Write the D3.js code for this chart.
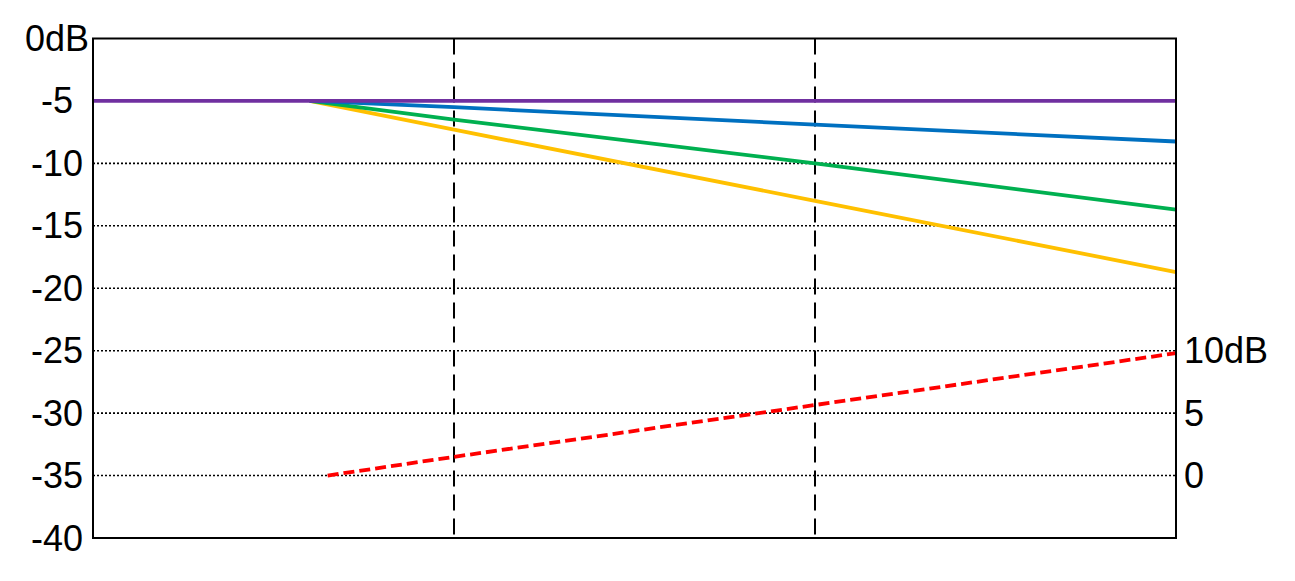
<!DOCTYPE html>
<html><head><meta charset="utf-8">
<script src="https://cdn.jsdelivr.net/npm/d3@7"></script>
<style>body{margin:0;background:#fff}text{font-family:"Liberation Sans",Arial,sans-serif}</style>
</head><body>
<svg id="c" width="1295" height="581"></svg>
<script>
// Data
const leftTicks = [0, -5, -10, -15, -20, -25, -30, -35, -40];
const leftTickLabels = ["0dB", "-5", "-10", "-15", "-20", "-25", "-30", "-35", "-40"];
const gridTicks = [-10, -15, -20, -25, -30, -35];
const rightTicks = [10, 5, 0];
const rightTickLabels = ["10dB", "5", "0"];
const dividers = [1, 2];
const xPos = [0.6, 1, 2, 3];
const purple = [[0, -5], [3, -5]];
const blue = [-5, -5.5, -6.9, -8.25];
const green = [-5, -6.5, -10, -13.7];
const yellow = [-5, -7.3, -13, -18.7];
const redX = [0.65, 1, 2, 3];
const red = [0, 1.5, 5.65, 9.8];

const svg = d3.select("#c");
const L = 93, R = 1176, T = 38.5, B = 538;
const x = d3.scaleLinear().domain([0, 3]).range([L, R]);
const y = d3.scaleLinear().domain([-40, 0]).range([B, T]);
const yR = d3.scaleLinear().domain([-5, 35]).range([B, T]);

// grid
svg.append("g").selectAll("line").data(gridTicks).join("line")
  .attr("x1", L).attr("x2", R).attr("y1", d => y(d)).attr("y2", d => y(d))
  .attr("stroke", "#000").attr("stroke-width", 1.6).attr("stroke-dasharray", "2,2");

// vertical dashed dividers
svg.append("g").selectAll("line").data(dividers).join("line")
  .attr("x1", d => x(d)).attr("x2", d => x(d)).attr("y1", T).attr("y2", B)
  .attr("stroke", "#000").attr("stroke-width", 2).attr("stroke-dasharray", "16,8");

const line = d3.line().x(d => x(d[0])).y(d => y(d[1]));
const lineR = d3.line().x(d => x(d[0])).y(d => yR(d[1]));

[[yellow, "#FFC000"], [green, "#00B050"], [blue, "#0070C0"]].forEach(([vals, col]) => {
  svg.append("path").datum(xPos.map((xx, i) => [xx, vals[i]])).attr("d", line)
    .attr("fill", "none").attr("stroke", col).attr("stroke-width", 3.8);
});
svg.append("path").datum(purple).attr("d", line)
  .attr("fill", "none").attr("stroke", "#7030A0").attr("stroke-width", 3.8);
svg.append("path").datum(redX.map((xx, i) => [xx, red[i]])).attr("d", lineR)
  .attr("fill", "none").attr("stroke", "#FF0000").attr("stroke-width", 3.8)
  .attr("stroke-dasharray", "11,5");

// frame
svg.append("rect").attr("x", L).attr("y", T).attr("width", R - L).attr("height", B - T)
  .attr("fill", "none").attr("stroke", "#000").attr("stroke-width", 2);

// left labels
svg.append("g").selectAll("text").data(leftTicks).join("text")
  .attr("x", 57).attr("y", d => y(d)).attr("text-anchor", "middle")
  .attr("dominant-baseline", "central").attr("font-size", 36)
  .text((d, i) => leftTickLabels[i]);

// right labels
svg.append("g").selectAll("text").data(rightTicks).join("text")
  .attr("x", 1184).attr("y", d => yR(d)).attr("text-anchor", "start")
  .attr("dominant-baseline", "central").attr("font-size", 36)
  .text((d, i) => rightTickLabels[i]);
</script>
</body></html>
